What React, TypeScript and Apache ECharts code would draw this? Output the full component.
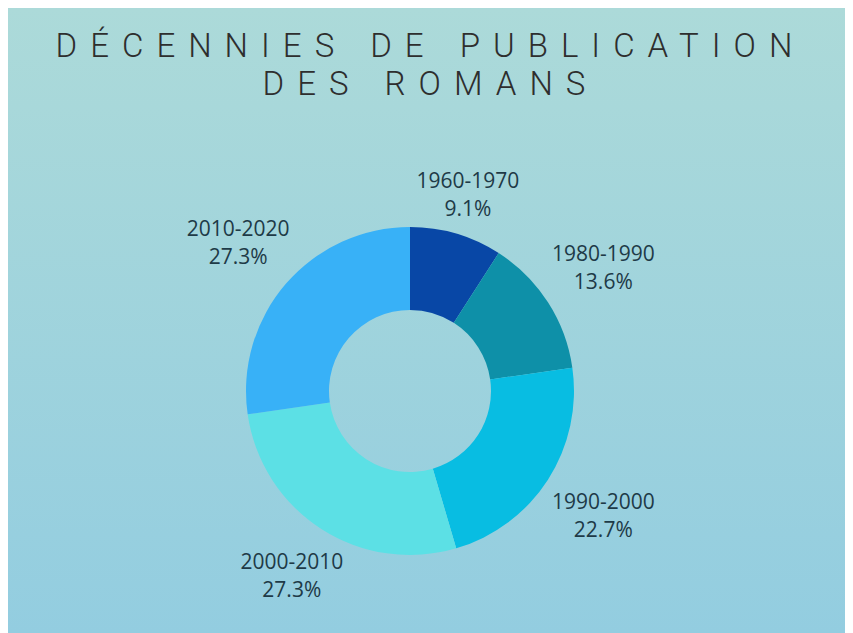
import { useEffect, useRef } from 'react';
import * as echarts from 'echarts';

const TITLE_LINES = ['DÉCENNIES DE PUBLICATION', 'DES ROMANS'];
const decades = ['1960-1970', '1980-1990', '1990-2000', '2000-2010', '2010-2020'];
const novelCounts = [2, 3, 5, 6, 6];
const sliceColors = ['#0847a6', '#0e90a8', '#08bde2', '#5ce0e5', '#38b1f7'];

const WIDTH = 845;
const HEIGHT = 625;
const CX = 402;
const CY = 383;
const R_IN = 81;
const R_OUT = 164;
const LABEL_GAP = 12;
const TITLE_FONT = 'Roboto';
const LETTER_SPACING = 13;
const WORD_SPACING = 2;

export default function App() {
  const ref = useRef<HTMLDivElement>(null);

  useEffect(() => {
    if (!ref.current) return;
    const el = ref.current;
    const chart = echarts.init(el, null, { renderer: 'svg' });

    const total = novelCounts.reduce((a, b) => a + b, 0);
    const mids: number[] = [];
    let acc = 0;
    novelCounts.forEach((v) => {
      mids.push(((acc + v / 2) / total) * Math.PI * 2);
      acc += v;
    });

    const labelLayout = (p: any) => {
      const a = mids[p.dataIndex];
      const dx = Math.sin(a);
      const dy = -Math.cos(a);
      const hw = p.labelRect.width / 2 - 1;
      const hh = p.labelRect.height / 2 - 6.5;
      const target = R_OUT + LABEL_GAP;
      const dist = (t: number) => {
        const ex = Math.max(Math.abs(t * dx) - hw, 0);
        const ey = Math.max(Math.abs(t * dy) - hh, 0);
        return Math.hypot(ex, ey);
      };
      let lo = 0;
      let hi = 600;
      for (let i = 0; i < 50; i++) {
        const m = (lo + hi) / 2;
        if (dist(m) < target) lo = m;
        else hi = m;
      }
      return { x: CX + hi * dx, y: CY + hi * dy, align: 'center', verticalAlign: 'middle' };
    };

    chart.setOption({
      animation: false,
      backgroundColor: {
        type: 'linear',
        x: 0,
        y: 0,
        x2: 0,
        y2: 1,
        colorStops: [
          { offset: 0, color: '#acdad9' },
          { offset: 1, color: '#93cde0' },
        ],
      },
      title: {
        text: TITLE_LINES.join('\n'),
        left: 'center',
        top: 13,
        textStyle: {
          fontFamily: TITLE_FONT,
          fontWeight: 300,
          fontSize: 33,
          lineHeight: 38,
          color: '#2e2e2e',
        },
      },
      series: [
        {
          type: 'pie',
          center: [CX, CY],
          radius: [R_IN, R_OUT],
          startAngle: 90,
          clockwise: true,
          avoidLabelOverlap: false,
          percentPrecision: 1,
          label: {
            show: true,
            position: 'outside',
            formatter: '{b}\n{d}%',
            fontFamily: 'Open Sans',
            fontSize: 21,
            lineHeight: 28,
            color: '#1e3a47',
          },
          labelLine: { show: false },
          labelLayout,
          emphasis: { scale: false },
          data: decades.map((name, i) => ({
            name,
            value: novelCounts[i],
            itemStyle: { color: sliceColors[i] },
          })),
        },
      ],
    });

    const applySpacing = () => {
      el.querySelectorAll('text').forEach((t) => {
        const s = (t.textContent || '').trim();
        if (TITLE_LINES.includes(s)) {
          (t as SVGTextElement).style.letterSpacing = LETTER_SPACING + 'px';
          (t as SVGTextElement).style.wordSpacing = WORD_SPACING + 'px';
        }
      });
    };
    applySpacing();
    chart.on('finished', applySpacing);

    return () => {
      chart.dispose();
    };
  }, []);

  return <div ref={ref} style={{ width: WIDTH, height: HEIGHT }} />;
}
